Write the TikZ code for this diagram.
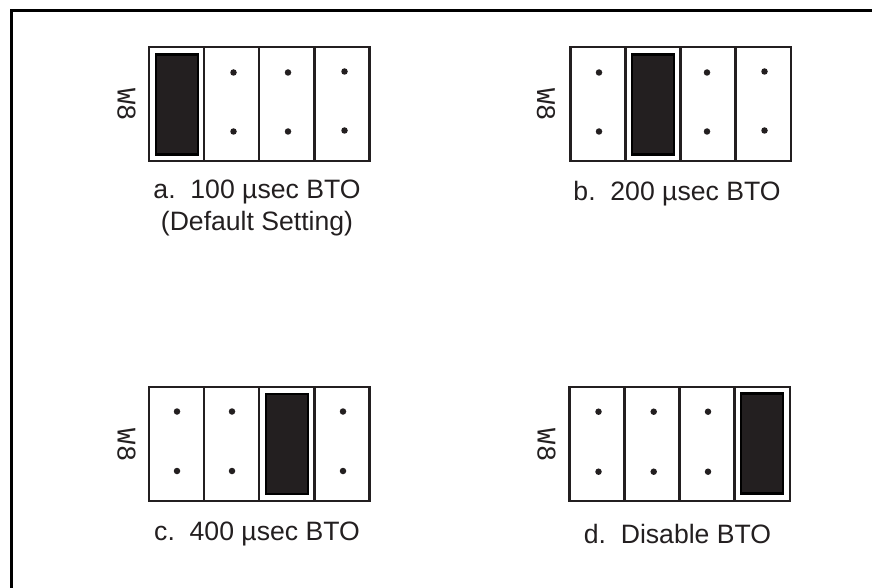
\documentclass[tikz,border=0pt]{standalone}
\usepackage{fontspec}
\setmainfont{Liberation Sans}
\newfontfamily\tagfont{Liberation Mono}
\definecolor{ink}{HTML}{231F20}
\tikzset{
  x=1pt,y=-1pt,
  frameline/.style={draw=black,line width=3pt,line cap=butt},
  jbox/.style={draw=ink,line width=2.4pt,inner sep=0pt,outer sep=0pt,minimum width=55pt,minimum height=113.5pt},
  jumper/.style={draw=black,line width=2.4pt,fill=ink,inner sep=0pt,outer sep=0pt,minimum width=42pt,minimum height=100pt},
  pin/.style={circle,fill=ink,draw=none,minimum size=6.5pt,inner sep=0pt},
  captext/.style={font=\fontsize{26.6}{32}\selectfont,text=ink,align=center,inner sep=0pt},
  tagtext/.style={font=\tagfont\fontsize{27}{30}\selectfont,text=ink,rotate=-90,inner sep=0pt}
}
\begin{document}
\begin{tikzpicture}
\useasboundingbox (0,0) rectangle (872,588);
\coordinate (fa) at (872,10.5);
\coordinate (fb) at (11.5,10.5);
\coordinate (fc) at (11.5,588);
\draw[frameline] (fa) -- (fb) -- (fc);
% panel a
\foreach \n/\x in {1/176.5,2/231.5,3/286.5,4/342}{\node[jbox] (a\n) at (\x,104) {};}
\node[jumper] (aj) at (177,104.5) {};
\foreach \n/\x/\y in {1/233.5/72.5,2/233.5/131.5,3/288/72.5,4/288/131.5,5/344.5/71.5,6/344.5/130.5}{\node[pin] (ap\n) at (\x,\y) {};}
\node[tagtext] (at) at (126.5,105) {W8};
\node[captext] (al) at (257,208) {a.\ \ 100 µsec BTO\\(Default Setting)};
% panel b
\foreach \n/\x in {1/598,2/653,3/708,4/763.5}{\node[jbox] (b\n) at (\x,104) {};}
\node[jumper] (bj) at (653,104.5) {};
\foreach \n/\x/\y in {1/599/72.5,2/599/131.5,3/707/72.5,4/707/131.5,5/764.5/71.5,6/764.5/130.5}{\node[pin] (bp\n) at (\x,\y) {};}
\node[tagtext] (bt) at (546,105) {W8};
\node[captext] (bl) at (677,194) {b.\ \ 200 µsec BTO};
% panel c
\foreach \n/\x in {1/176.5,2/231.5,3/286.5,4/342}{\node[jbox] (c\n) at (\x,444) {};}
\node[jumper] (cj) at (287,444) {};
\foreach \n/\x/\y in {1/177/411.5,2/177/471,3/232/411.5,4/232/471,5/343/411.5,6/343/471}{\node[pin] (cp\n) at (\x,\y) {};}
\node[tagtext] (ct) at (126.5,445) {W8};
\node[captext] (cl) at (257,534) {c.\ \ 400 µsec BTO};
% panel d
\foreach \n/\x in {1/597,2/652,3/707,4/762.5}{\node[jbox] (d\n) at (\x,444) {};}
\node[jumper] (dj) at (762,443.5) {};
\foreach \n/\x/\y in {1/598.5/411.7,2/598.5/471.7,3/653.7/411.7,4/653.7/471.7,5/708/411.7,6/708/471.7}{\node[pin] (dp\n) at (\x,\y) {};}
\node[tagtext] (dt) at (546.5,445) {W8};
\node[captext] (dl) at (677.5,534) {d.\ \ Disable BTO};
\end{tikzpicture}
\end{document}
